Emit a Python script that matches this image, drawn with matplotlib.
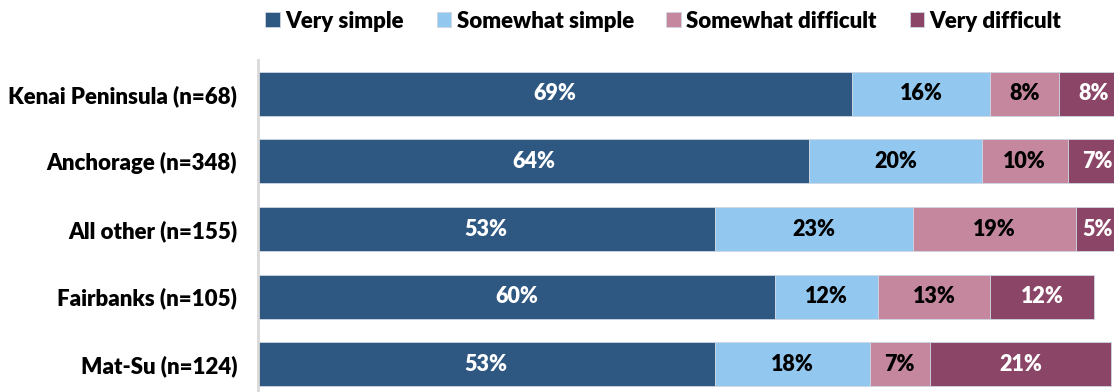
import matplotlib.pyplot as plt

plt.rcParams['font.family'] = ['Lato', 'DejaVu Sans']
plt.rcParams['font.weight'] = 800

# Data
regions = ["Kenai Peninsula (n=68)", "Anchorage (n=348)", "All other (n=155)",
           "Fairbanks (n=105)", "Mat-Su (n=124)"]
series = ["Very simple", "Somewhat simple", "Somewhat difficult", "Very difficult"]
very_simple = [69, 64, 53, 60, 53]
somewhat_simple = [16, 20, 23, 12, 18]
somewhat_difficult = [8, 10, 19, 13, 7]
very_difficult = [8, 7, 5, 12, 21]

colors = ["#2E5882", "#92C8EF", "#C4879E", "#8B4566"]
text_colors = ["white", "black", "black", "white"]

fig = plt.figure(figsize=(11.14, 3.92), dpi=100)
ax = fig.add_axes([258 / 1114, -6 / 392, 870 / 1114, 338 / 392])

values = [very_simple, somewhat_simple, somewhat_difficult, very_difficult]
y = list(range(len(regions)))
left = [0] * len(regions)
for name, vals, col, tcol in zip(series, values, colors, text_colors):
    bars = ax.barh(y, vals, left=left, height=0.65, color=col, label=name,
                   edgecolor="#cdd6e0", linewidth=0.6)
    for b, v in zip(bars, vals):
        ax.text(b.get_x() + b.get_width() / 2, b.get_y() + b.get_height() / 2,
                f"{v}%", ha="center", va="center", color=tcol,
                fontsize=15.5, fontweight=800)
    left = [l + v for l, v in zip(left, vals)]

ax.set_xlim(0, 101)
ax.set_ylim(4.5, -0.5)
ax.set_yticks(y)
ax.set_yticklabels(regions, fontsize=16, fontweight=800)
ax.tick_params(axis="y", length=0, pad=15)
ax.set_xticks([])
for s in ["top", "right", "bottom"]:
    ax.spines[s].set_visible(False)
ax.spines["left"].set_color("#d9d9d9")
ax.spines["left"].set_linewidth(2)

fig.legend(loc="center", bbox_to_anchor=(0.5956, 0.946), ncol=4, frameon=False,
           handlelength=0.65, handleheight=0.65, handletextpad=0.25,
           columnspacing=1.47, prop={"weight": 800, "size": 16})

fig.savefig("out.png", dpi=100)
